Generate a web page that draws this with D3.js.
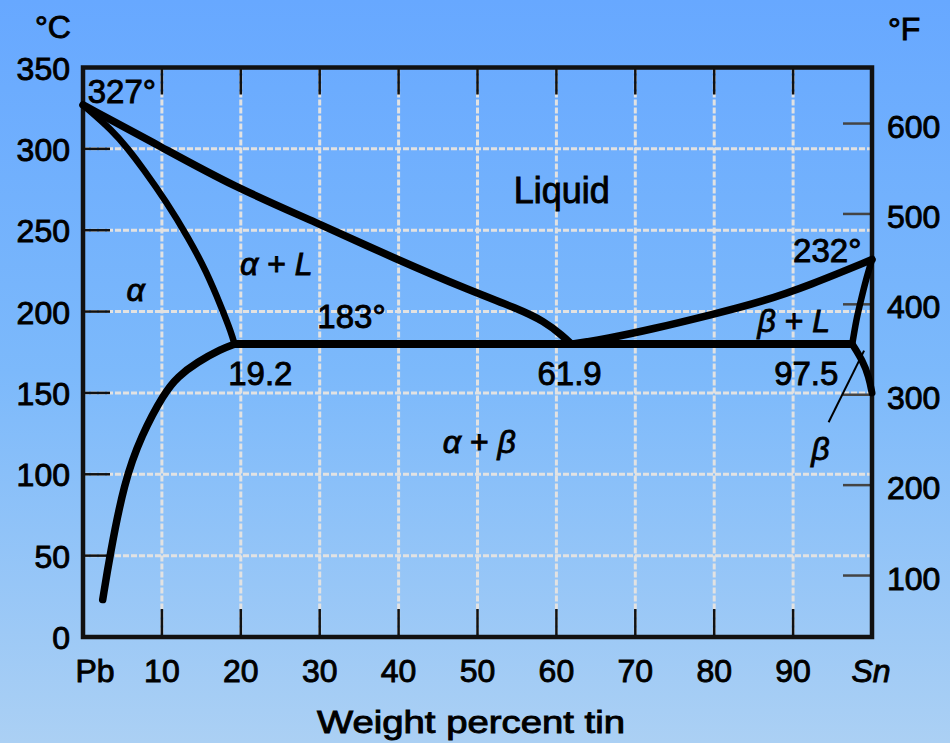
<!DOCTYPE html>
<html><head><meta charset="utf-8">
<script src="https://cdn.jsdelivr.net/npm/d3@7"></script>
<style>
html,body{margin:0;padding:0;background:#78b4fa;}
svg{display:block;}
text{font-family:"Liberation Sans",Arial,Helvetica,sans-serif;fill:#000;stroke:#000;stroke-width:0.9px;}
</style></head>
<body>
<script>
// ---- data (wt% Sn, temperature °C) ----
const xTickValues = [0,10,20,30,40,50,60,70,80,90,100];
const xTickLabels = ["Pb","10","20","30","40","50","60","70","80","90","Sn"];
const yTickValuesC = [0,50,100,150,200,250,300,350];
const yTickValuesF = [100,200,300,400,500,600];

const liquidusPb = [[0,327],[10,301],[19,277],[29.7,254.5],[39.3,233],[49.5,212],[55,202],[58.5,194],[60.8,185],[61.9,180]];
const solidusPb  = [[0,327],[3.8,311],[5.7,300],[7.6,288],[10.5,268],[13.4,245],[15.6,225],[17.6,202],[18.8,187],[19.2,180]];
const solvusPb   = [[19.2,180],[17.5,177],[14.5,169],[12,160],[10.3,150],[7.4,124],[5.2,95],[3.4,50],[2.5,23]];
const liquidusSn = [[61.9,180],[64,181.5],[66,183],[72,189],[80,198.5],[86,206],[92,216],[100,232]];
const solidusSn  = [[100,232],[99.2,219],[98.6,207],[98,195],[97.5,180]];
const solvusSn   = [[97.5,180],[98.8,170],[99.6,160],[100,150]];
const eutectic   = [[19.2,180],[97.5,180]];

const W = 950, H = 743;
const x = d3.scaleLinear().domain([0,100]).range([83,872]);
const y = d3.scaleLinear().domain([0,350]).range([637,67.5]);
const f2c = f => (f-32)*5/9;

const svg = d3.select("body").append("svg").attr("width",W).attr("height",H);
const defs = svg.append("defs");
const g = defs.append("linearGradient").attr("id","bg").attr("x1",0).attr("y1",0).attr("x2",0).attr("y2",1);
g.append("stop").attr("offset","0%").attr("stop-color","#67a8ff");
g.append("stop").attr("offset","50%").attr("stop-color","#7cb9fb");
g.append("stop").attr("offset","100%").attr("stop-color","#abd0f4");
svg.append("rect").attr("width",W).attr("height",H).attr("fill","url(#bg)");

// grid
const grid = svg.append("g");
grid.selectAll(".vg").data(xTickValues.slice(1,-1)).join("line")
  .attr("x1",d=>x(d)).attr("x2",d=>x(d)).attr("y1",y(350)).attr("y2",y(0))
  .attr("stroke","#e2e2e2").attr("stroke-width",3).attr("stroke-dasharray","6,2");
grid.selectAll(".hg").data(yTickValuesC.slice(1,-1)).join("line")
  .attr("y1",d=>y(d)).attr("y2",d=>y(d)).attr("x1",x(0)).attr("x2",x(100))
  .attr("stroke","#e2e2e2").attr("stroke-width",3).attr("stroke-dasharray","6,2");

// inner ticks
const tk = svg.append("g").attr("stroke","#111").attr("stroke-width",2.5);
tk.selectAll(".bt").data(xTickValues.slice(1,-1)).join("line")
  .attr("x1",d=>x(d)).attr("x2",d=>x(d)).attr("y1",y(0)).attr("y2",y(0)-28);
tk.selectAll(".tt").data(xTickValues.slice(1,-1)).join("line")
  .attr("x1",d=>x(d)).attr("x2",d=>x(d)).attr("y1",y(350)).attr("y2",y(350)+27);
tk.selectAll(".lt").data(yTickValuesC.slice(1,-1)).join("line")
  .attr("y1",d=>y(d)).attr("y2",d=>y(d)).attr("x1",x(0)).attr("x2",x(0)+27);
tk.selectAll(".rt").data(yTickValuesF).join("line")
  .attr("y1",d=>y(f2c(d))).attr("y2",d=>y(f2c(d))).attr("x1",x(100)-29).attr("x2",x(100))
  .attr("stroke","#444");

// frame
svg.append("rect").attr("x",x(0)).attr("y",y(350)).attr("width",x(100)-x(0)).attr("height",y(0)-y(350))
  .attr("fill","none").attr("stroke","#111").attr("stroke-width",4.5);

// curves
const line = d3.line().x(d=>x(d[0])).y(d=>y(d[1])).curve(d3.curveBasis);
const curves = svg.append("g").attr("fill","none").attr("stroke","#000").attr("stroke-linecap","round").attr("stroke-linejoin","round");
curves.append("path").datum(liquidusPb).attr("d",line).attr("stroke-width",7.5);
curves.append("path").datum(solidusPb).attr("d",line).attr("stroke-width",6.5);
curves.append("path").datum(solvusPb).attr("d",line).attr("stroke-width",7.5);
curves.append("path").datum(liquidusSn).attr("d",line).attr("stroke-width",7.5);
curves.append("path").datum(solidusSn).attr("d",line).attr("stroke-width",6.5);
curves.append("path").datum(solvusSn).attr("d",line).attr("stroke-width",7);
curves.append("path").datum(eutectic).attr("d",d3.line().x(d=>x(d[0])).y(d=>y(d[1]))).attr("stroke-width",8).attr("stroke-linecap","butt");

// leader line to beta region
svg.append("line").attr("x1",x(94.5)).attr("y1",y(132)).attr("x2",x(99)).attr("y2",y(176))
  .attr("stroke","#000").attr("stroke-width",2);

// axis labels
const lab = svg.append("g");
lab.selectAll(".yl").data(yTickValuesC).join("text")
  .attr("x",70).attr("y",d=>y(d)+12).attr("text-anchor","end").attr("font-size",32).text(d=>d);
lab.selectAll(".fl").data(yTickValuesF).join("text")
  .attr("x",887).attr("y",d=>y(f2c(d))+14).attr("text-anchor","start").attr("font-size",32).text(d=>d);
lab.selectAll(".xl").data(xTickValues.slice(1,-1)).join("text")
  .attr("x",d=>x(d)).attr("y",682).attr("text-anchor","middle").attr("font-size",32)
  .text((d,i)=>xTickLabels[i+1]);
lab.append("text").attr("x",x(0)+12).attr("y",682).attr("text-anchor","middle").attr("font-size",32).text(xTickLabels[0]);
lab.append("text").attr("x",x(100)-1).attr("y",682).attr("text-anchor","middle").attr("font-size",32)
  .attr("font-style","italic").text(xTickLabels[10]);
lab.append("text").attr("x",35).attr("y",38).attr("font-size",32).text("°C");
lab.append("text").attr("x",888).attr("y",40).attr("font-size",32).text("°F");
lab.append("text").attr("x",317).attr("y",733).attr("font-size",31)
  .attr("textLength",308).attr("lengthAdjust","spacingAndGlyphs").text("Weight percent tin");

// region / point annotations (anchored in data units)
const notes = [
  {t:"327°", v:0.6, T:328, s:33},
  {t:"Liquid", v:54.6, T:266.7, s:36},
  {t:"232°", v:90, T:230.5, s:33},
  {t:"183°", v:29.7, T:190, s:33},
  {t:"19.2", v:18.4, T:155, s:33},
  {t:"61.9", v:57.6, T:155, s:33},
  {t:"97.5", v:87.6, T:155, s:33},
];
lab.selectAll(".nt").data(notes).join("text")
  .attr("x",d=>x(d.v)).attr("y",d=>y(d.T)).attr("font-size",d=>d.s).text(d=>d.t);

const greek = [
  {parts:[["α",1],[" + ",0],["L",1]], v:19.9, T:222.5},
  {parts:[["α",1]], v:5.5, T:206.5},
  {parts:[["α",1],[" + ",0],["β",1]], v:45.6, T:113},
  {parts:[["β",1],[" + ",0],["L",1]], v:85.5, T:187.5},
  {parts:[["β",1]], v:92.3, T:109},
];
greek.forEach(gk=>{
  const t = lab.append("text").attr("x",x(gk.v)).attr("y",y(gk.T)).attr("font-size",32);
  gk.parts.forEach(p=>t.append("tspan").attr("font-style",p[1]?"italic":"normal").text(p[0]));
});
</script>
</body></html>
